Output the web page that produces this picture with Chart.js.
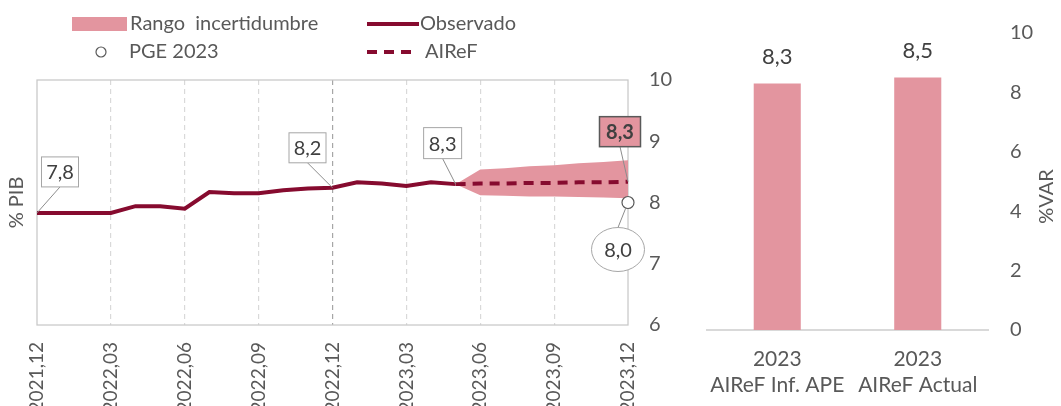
<!DOCTYPE html>
<html>
<head>
<meta charset="utf-8">
<script src="https://cdn.jsdelivr.net/npm/chart.js@4/dist/chart.umd.min.js"></script>
<style>
    body { margin: 0; background: #fff; }
    #wrap { position: relative; width: 1061px; height: 406px; }
    #linea { position: absolute; left: 0; top: 0; }
    #barras { position: absolute; left: 690px; top: 0; }
</style>
</head>
<body>
<div id="wrap">
    <canvas id="linea" width="690" height="406"></canvas>
    <canvas id="barras" width="371" height="406"></canvas>
</div>
<script>
/**
 * Deuda / %PIB: serie observada, prevision AIReF con rango y PGE 2023, mas barras de comparacion.
 */

// Meses del eje x (se muestran solo los trimestrales).
let meses = ['2021,12', '2022,01', '2022,02', '2022,03', '2022,04', '2022,05', '2022,06',
    '2022,07', '2022,08', '2022,09', '2022,10', '2022,11', '2022,12', '2023,01', '2023,02',
    '2023,03', '2023,04', '2023,05', '2023,06', '2023,07', '2023,08', '2023,09', '2023,10',
    '2023,11', '2023,12'];

let observado = [7.83, 7.83, 7.83, 7.83, 7.94, 7.94, 7.90, 8.17, 8.15, 8.15, 8.20, 8.23, 8.24,
    8.33, 8.31, 8.27, 8.33, 8.30, null, null, null, null, null, null, null];

let airef = [null, null, null, null, null, null, null, null, null, null, null, null, null,
    null, null, null, null, 8.30, 8.31, 8.31, 8.32, 8.32, 8.33, 8.33, 8.34];

let rangoSup = [null, null, null, null, null, null, null, null, null, null, null, null, null,
    null, null, null, null, 8.30, 8.54, 8.56, 8.59, 8.61, 8.64, 8.66, 8.69];

let rangoInf = [null, null, null, null, null, null, null, null, null, null, null, null, null,
    null, null, null, null, 8.30, 8.12, 8.11, 8.10, 8.10, 8.09, 8.08, 8.07];

let pge = [null, null, null, null, null, null, null, null, null, null, null, null, null,
    null, null, null, null, null, null, null, null, null, null, null, 8.0];

let yTicks = [6, 7, 8, 9, 10];

// Barras de la derecha.
let barCategorias = [['2023', 'AIReF Inf. APE'], ['2023', 'AIReF Actual']];
let barValores = [8.3, 8.5];
let barTicks = [0, 2, 4, 6, 8, 10];

const granate = '#860B2F';
const rosa = '#E3959F';
const gris = '#595959';
const fuente = "Lato, 'Open Sans', sans-serif";

Chart.defaults.font.family = fuente;
Chart.defaults.color = gris;

function coma(v) {
    return v.toFixed(1).replace('.', ',');
}

// Etiquetas con linea guia: dataset, indice y desplazamiento de la caja.
let etiquetas = [
    {ds: 1, idx: 0, dx: 23, dy: -41, w: 37, h: 30},
    {ds: 1, idx: 12, dx: -25, dy: -40, w: 37, h: 30},
    {ds: 1, idx: 17, dx: -13, dy: -41, w: 38, h: 31},
    {ds: 2, idx: 24, dx: -8, dy: -50, w: 41, h: 30, bold: true},
    {ds: 0, idx: 24, dx: -10, dy: 47, w: 53, h: 44, elipse: true}
];

const marcoPlugin = {
    id: 'marco',
    beforeDatasetsDraw(chart) {
        const a = chart.chartArea;
        const ctx = chart.ctx;
        ctx.save();
        ctx.strokeStyle = '#C8C8C8';
        ctx.lineWidth = 1.25;
        ctx.strokeRect(a.left, a.top, a.right - a.left, a.bottom - a.top);
        ctx.restore();
    }
};

const etiquetasPlugin = {
    id: 'etiquetas',
    afterDatasetsDraw(chart) {
        const ctx = chart.ctx;
        etiquetas.forEach(e => {
            const pt = chart.getDatasetMeta(e.ds).data[e.idx];
            const v = chart.data.datasets[e.ds].data[e.idx];
            const bx = pt.x + e.dx;
            const by = pt.y + e.dy;
            const ey = e.dy < 0 ? by + e.h / 2 : by - e.h / 2;
            ctx.save();
            // linea guia
            let sx = pt.x, sy = pt.y;
            if (e.elipse) {
                const d = Math.hypot(bx - pt.x, ey - pt.y);
                sx += (bx - pt.x) / d * 6;
                sy += (ey - pt.y) / d * 6;
            }
            ctx.strokeStyle = '#8C8C8C';
            ctx.lineWidth = 1;
            ctx.beginPath();
            ctx.moveTo(sx, sy);
            ctx.lineTo(bx, ey);
            ctx.stroke();
            // caja
            if (e.elipse) {
                ctx.beginPath();
                ctx.ellipse(bx, by, e.w / 2, e.h / 2, 0, 0, Math.PI * 2);
                ctx.fillStyle = '#fff';
                ctx.fill();
                ctx.strokeStyle = '#A6A6A6';
                ctx.stroke();
            } else {
                ctx.fillStyle = e.bold ? rosa : '#fff';
                ctx.fillRect(bx - e.w / 2, by - e.h / 2, e.w, e.h);
                ctx.strokeStyle = e.bold ? gris : '#A6A6A6';
                ctx.lineWidth = e.bold ? 1.5 : 1;
                ctx.strokeRect(bx - e.w / 2, by - e.h / 2, e.w, e.h);
            }
            ctx.fillStyle = '#404040';
            ctx.font = (e.bold ? 'bold ' : '') + '20px ' + fuente;
            ctx.textAlign = 'center';
            ctx.textBaseline = 'middle';
            ctx.fillText(coma(v), bx, by + 1);
            ctx.restore();
        });
    }
};

// Leyenda en dos columnas como el original.
const leyendaPlugin = {
    id: 'leyenda',
    afterDraw(chart) {
        const ctx = chart.ctx;
        const ds = chart.data.datasets;
        ctx.save();
        ctx.font = '20px ' + fuente;
        ctx.fillStyle = gris;
        ctx.textBaseline = 'middle';
        // Rango
        ctx.fillStyle = ds[3].backgroundColor;
        ctx.fillRect(72, 17, 55, 14);
        ctx.fillStyle = gris;
        ctx.fillText(ds[3].label, 130, 24);
        // Observado
        ctx.strokeStyle = ds[1].borderColor;
        ctx.lineWidth = 4;
        ctx.beginPath(); ctx.moveTo(367, 24); ctx.lineTo(419, 24); ctx.stroke();
        ctx.fillText(ds[1].label, 420, 24);
        // PGE
        ctx.lineWidth = 1.2;
        ctx.strokeStyle = ds[0].borderColor;
        ctx.fillStyle = '#fff';
        ctx.beginPath(); ctx.arc(101, 52, 5, 0, Math.PI * 2); ctx.fill(); ctx.stroke();
        ctx.fillStyle = gris;
        ctx.fillText(ds[0].label, 129, 52);
        // AIReF
        ctx.strokeStyle = ds[2].borderColor;
        ctx.lineWidth = 4;
        ctx.setLineDash([10, 7]);
        ctx.beginPath(); ctx.moveTo(367, 52); ctx.lineTo(418, 52); ctx.stroke();
        ctx.setLineDash([]);
        ctx.fillText(ds[2].label, 425, 52);
        ctx.restore();
    }
};

let lineaChart = new Chart(document.getElementById('linea'), {
    type: 'line',
    data: {
        labels: meses,
        datasets: [
            {
                label: 'PGE 2023', data: pge, showLine: false,
                pointRadius: 6, pointBackgroundColor: '#fff', borderColor: gris,
                pointBorderColor: gris, pointBorderWidth: 1.2, order: 0
            },
            {
                label: 'Observado', data: observado, borderColor: granate,
                borderWidth: 4, pointRadius: 0, tension: 0, order: 1
            },
            {
                label: 'AIReF', data: airef, borderColor: granate, borderWidth: 4,
                borderDash: [10, 7], pointRadius: 0, tension: 0, order: 2
            },
            {
                label: 'Rango  incertidumbre', data: rangoSup, borderWidth: 0,
                borderColor: rosa, backgroundColor: rosa, fill: '+1', pointRadius: 0, order: 3
            },
            {
                label: 'inf', data: rangoInf, borderWidth: 0, borderColor: rosa,
                pointRadius: 0, fill: false, order: 4
            }
        ]
    },
    options: {
        responsive: false,
        animation: false,
        layout: {padding: {left: 0, right: 0, top: 80, bottom: 0}},
        plugins: {legend: {display: false}, tooltip: {enabled: false}},
        scales: {
            x: {
                grid: {
                    drawTicks: false,
                    lineWidth: 1.2,
                    borderDash: [5, 4],
                    color: (c) => {
                        if (c.index === 0 || c.index === meses.length - 1 || c.index % 3 !== 0) return 'rgba(0,0,0,0)';
                        return c.index === 12 ? '#A6A6A6' : '#D9D9D9';
                    }
                },
                border: {display: false, dash: [5, 4]},
                ticks: {
                    autoSkip: false, maxRotation: 90, minRotation: 90, padding: 17,
                    font: {size: 19},
                    callback: function (v, i) {
                        return i % 3 === 0 ? this.getLabelForValue(v) : '';
                    }
                },
                afterFit: (s) => { s.height = 81; s.paddingLeft = 0; s.paddingRight = 0; }
            },
            y: {
                position: 'right', min: 6, max: 10,
                afterBuildTicks: (s) => { s.ticks = yTicks.map(v => ({value: v})); },
                ticks: {padding: 21, font: {size: 20}},
                grid: {display: false, drawTicks: false},
                border: {display: false},
                afterFit: (s) => { s.width = 62; s.paddingTop = 0; s.paddingBottom = 0; }
            },
            yl: {
                position: 'left', min: 6, max: 10,
                ticks: {display: false},
                grid: {display: false, drawTicks: false},
                border: {display: false},
                title: {display: true, text: '% PIB', font: {size: 20}, padding: {top: 5, bottom: 8}},
                afterFit: (s) => { s.width = 37; }
            }
        }
    },
    plugins: [marcoPlugin, etiquetasPlugin, leyendaPlugin]
});

const valoresPlugin = {
    id: 'valores',
    afterDatasetsDraw(chart) {
        const ctx = chart.ctx;
        ctx.save();
        ctx.font = '22px ' + fuente;
        ctx.fillStyle = '#404040';
        ctx.textAlign = 'center';
        ctx.textBaseline = 'middle';
        chart.getDatasetMeta(0).data.forEach((bar, i) => {
            ctx.fillText(coma(chart.data.datasets[0].data[i]), bar.x, bar.y - 27);
        });
        // titulo del eje, leido de abajo arriba
        const a = chart.chartArea;
        ctx.font = '20px ' + fuente;
        ctx.fillStyle = gris;
        ctx.translate(1047 - 690, (a.top + a.bottom) / 2 + 15);
        ctx.rotate(-Math.PI / 2);
        ctx.fillText(chart.data.datasets[0].label, 0, 0);
        ctx.restore();
    }
};

let barrasChart = new Chart(document.getElementById('barras'), {
    type: 'bar',
    data: {
        labels: barCategorias,
        datasets: [{
            label: '%VAR', data: barValores, backgroundColor: rosa,
            barPercentage: 1, categoryPercentage: 0.335
        }]
    },
    options: {
        responsive: false,
        animation: false,
        layout: {padding: {left: 17, right: 0, top: 33, bottom: 0}},
        plugins: {legend: {display: false}, tooltip: {enabled: false}},
        scales: {
            x: {
                grid: {display: false, drawTicks: false},
                border: {display: true, color: '#D9D9D9', width: 2},
                ticks: {padding: 16, maxRotation: 0, autoSkip: false, font: {size: 21, lineHeight: 1.25}},
                afterFit: (s) => { s.height = 76; s.paddingLeft = 0; s.paddingRight = 0; }
            },
            y: {
                position: 'right', min: 0, max: 10,
                afterBuildTicks: (s) => { s.ticks = barTicks.map(v => ({value: v})); },
                ticks: {padding: 22, font: {size: 20}},
                grid: {display: false, drawTicks: false},
                border: {display: false},
                afterFit: (s) => { s.width = 73; s.paddingTop = 0; s.paddingBottom = 0; }
            }
        }
    },
    plugins: [valoresPlugin]
});
</script>
</body>
</html>
